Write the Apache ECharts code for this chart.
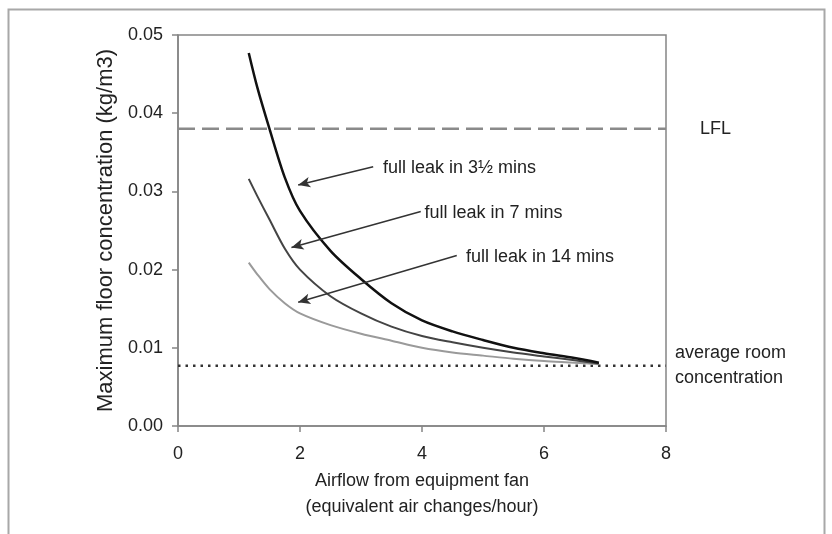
<!DOCTYPE html>
<html>
<head>
<meta charset="utf-8">
<script src="https://cdn.jsdelivr.net/npm/echarts@6/dist/echarts.min.js"></script>
<style>
html, body { margin: 0; padding: 0; background: #fff; }
#chart { width: 832px; height: 534px; }
</style>
</head>
<body>
<div id="chart"></div>
<script>
// airflow from equipment fan (air changes/hour), shared by the three curves
var airflow = [1.16, 1.3, 1.5, 1.75, 2.0, 2.5, 3.0, 3.5, 4.0, 4.5, 5.0, 5.5, 6.0, 6.5, 6.9]
// maximum floor concentration (kg/m3)
var leak3half = [0.0477, 0.0433, 0.0380, 0.0318, 0.0275, 0.0224, 0.0188, 0.0157, 0.0135, 0.0121, 0.0110, 0.0100, 0.0093, 0.0087, 0.0081]
var leak7 = [0.0316, 0.0294, 0.0264, 0.0227, 0.0200, 0.0166, 0.0144, 0.0127, 0.0115, 0.0107, 0.0100, 0.0094, 0.0089, 0.0084, 0.0080]
var leak14 = [0.0209, 0.0194, 0.0175, 0.0157, 0.0144, 0.0129, 0.0118, 0.0109, 0.0100, 0.0094, 0.0090, 0.0086, 0.0083, 0.0081, 0.0079]
var lfl = 0.038
var avgRoom = 0.0077
var xTicks = [0, 2, 4, 6, 8]
var yTicks = [0, 0.01, 0.02, 0.03, 0.04, 0.05]

var font = "'Liberation Sans', Arial, sans-serif"
var axisGray = '#858585'

function pairs(ys) {
  return airflow.map(function(x, i) { return [x, ys[i]] })
}

var xMin = xTicks[0], xMax = xTicks[xTicks.length - 1]

var chart = echarts.init(document.getElementById('chart'))
chart.setOption({
  animation: false,
  backgroundColor: '#fff',
  graphic: [{
    type: 'rect',
    shape: { x: 8.5, y: 9.5, width: 816, height: 540 },
    style: { fill: 'none', stroke: '#a8a8a8', lineWidth: 2 }
  }],
  grid: {
    left: 178, right: 166, top: 35, bottom: 108,
    show: true, borderColor: axisGray, borderWidth: 1.5
  },
  xAxis: {
    type: 'value',
    min: xMin, max: xMax, interval: xTicks[1] - xTicks[0],
    name: 'Airflow from equipment fan\n(equivalent air changes/hour)',
    nameLocation: 'middle', nameGap: 42,
    nameTextStyle: { fontFamily: font, fontSize: 18, color: '#222', lineHeight: 26 },
    axisLine: { lineStyle: { color: axisGray, width: 1.5 } },
    axisTick: { show: true, inside: false, length: 6, lineStyle: { color: axisGray, width: 1.5 } },
    axisLabel: { fontFamily: font, fontSize: 18, color: '#222', margin: 19 },
    splitLine: { show: false }
  },
  yAxis: {
    type: 'value',
    min: yTicks[0], max: yTicks[yTicks.length - 1], interval: yTicks[1] - yTicks[0],
    name: 'Maximum floor concentration (kg/m3)',
    nameLocation: 'middle', nameGap: 60,
    nameTextStyle: { fontFamily: font, fontSize: 22, color: '#222' },
    axisLine: { show: true, lineStyle: { color: axisGray, width: 1.5 } },
    axisTick: { show: true, inside: false, length: 6, lineStyle: { color: axisGray, width: 1.5 } },
    axisLabel: {
      fontFamily: font, fontSize: 18, color: '#222', margin: 15,
      formatter: function(v) { return v.toFixed(2) }
    },
    splitLine: { show: false }
  },
  series: [
    {
      name: 'LFL', type: 'line', data: [[xMin, lfl], [xMax, lfl]],
      symbol: 'none', silent: true,
      lineStyle: { color: '#8a8a8a', width: 2.5, type: [17, 7] },
      endLabel: { show: true, formatter: 'LFL', distance: 34, fontFamily: font, fontSize: 18, color: '#222' }
    },
    {
      name: 'average room concentration', type: 'line', data: [[xMin, avgRoom], [xMax, avgRoom]],
      symbol: 'none', silent: true,
      lineStyle: { color: '#333', width: 2.5, type: [2.5, 5], cap: 'butt' },
      endLabel: {
        show: true, formatter: 'average room\nconcentration', distance: 9,
        fontFamily: font, fontSize: 18, lineHeight: 25, color: '#222'
      }
    },
    {
      name: 'full leak in 14 mins', type: 'line', data: pairs(leak14),
      smooth: 0.3, symbol: 'none', lineStyle: { color: '#9a9a9a', width: 2 }
    },
    {
      name: 'full leak in 7 mins', type: 'line', data: pairs(leak7),
      smooth: 0.3, symbol: 'none', lineStyle: { color: '#444', width: 2 }
    },
    {
      name: 'full leak in 3½ mins', type: 'line', data: pairs(leak3half),
      smooth: 0.3, symbol: 'none', lineStyle: { color: '#111', width: 2.5 },
      markLine: {
        silent: true, animation: false,
        symbol: ['none', 'arrow'], symbolSize: [8, 12],
        label: { show: false },
        lineStyle: { color: '#333', width: 1.5, type: 'solid' },
        data: [
          [{ coord: [3.20, 0.03316] }, { coord: [1.97, 0.03082] }],
          [{ coord: [3.98, 0.02743] }, { coord: [1.86, 0.02283] }],
          [{ coord: [4.57, 0.02180] }, { coord: [1.97, 0.01582] }]
        ]
      },
      markPoint: {
        silent: true, animation: false,
        symbol: 'circle', symbolSize: 0,
        itemStyle: { color: 'transparent' },
        label: { show: true, position: 'right', distance: 0, fontFamily: font, fontSize: 18, color: '#222' },
        data: [
          { coord: [3.36, 0.03295], label: { formatter: 'full leak in 3½ mins' } },
          { coord: [4.04, 0.02728], label: { formatter: 'full leak in 7 mins' } },
          { coord: [4.72, 0.02161], label: { formatter: 'full leak in 14 mins' } }
        ]
      }
    }
  ]
})
</script>
</body>
</html>
